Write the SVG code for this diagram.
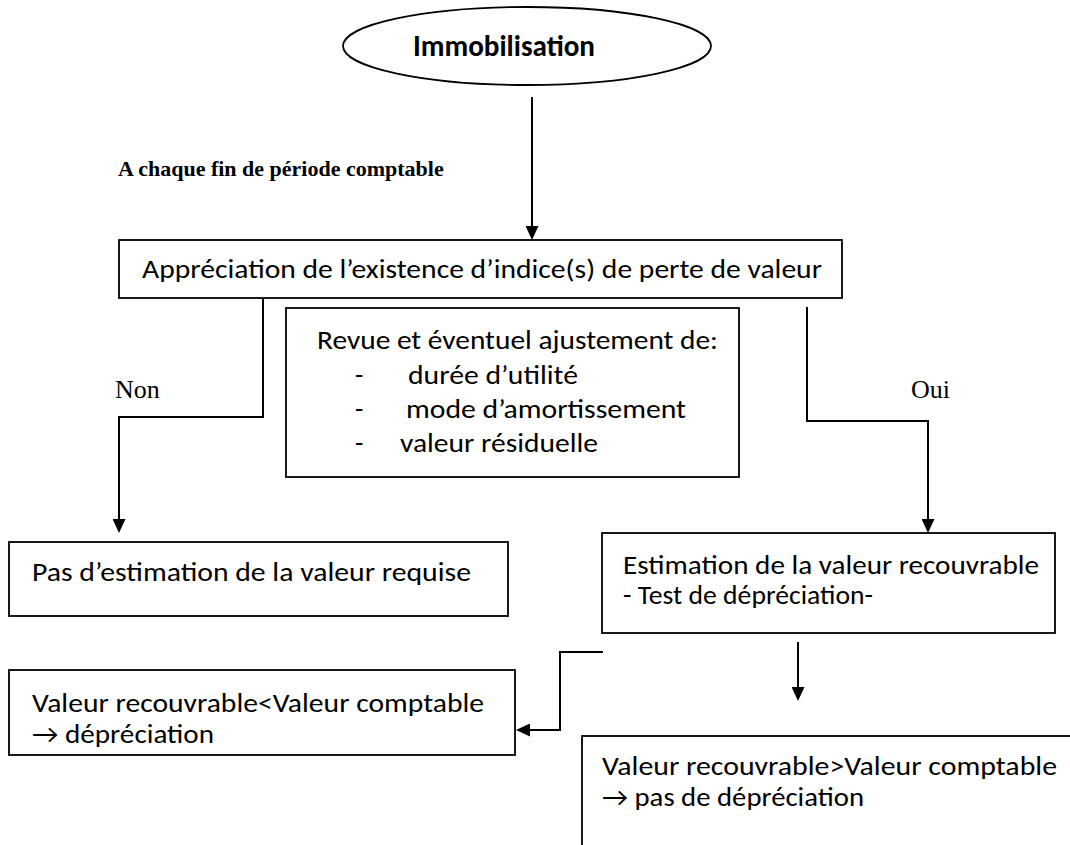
<svg xmlns="http://www.w3.org/2000/svg" width="1070" height="845" viewBox="0 0 1070 845">
<defs>
<style>
.bx{fill:#fff;stroke:#000;stroke-width:1.8}
.cn{fill:none;stroke:#000;stroke-width:2}
.t{font-family:Carlito,"Open Sans","Liberation Sans",sans-serif;font-size:27px;fill:#000}
.tb{font-family:Carlito,"Open Sans","Liberation Sans",sans-serif;font-size:30px;font-weight:bold;fill:#000}
.s{font-family:"Liberation Serif","Times New Roman",serif;fill:#000}
</style>
<marker id="ah" viewBox="0 0 14 13" markerUnits="userSpaceOnUse" markerWidth="14" markerHeight="13" refX="0" refY="6.5" orient="auto">
<path d="M0,0 L14,6.5 L0,13 z" fill="#000"/>
</marker>
</defs>
<rect width="1070" height="845" fill="#fff"/>

<g id="connectors">
<path class="cn" d="M532,97 L532,226" marker-end="url(#ah)"/>
<path class="cn" d="M263,298 L263,417 L119,417 L119,519" marker-end="url(#ah)"/>
<path class="cn" d="M807,307 L807,421 L928,421 L928,519" marker-end="url(#ah)"/>
<path class="cn" d="M603,652 L560,652 L560,730 L530,730" marker-end="url(#ah)"/>
<path class="cn" d="M798,642 L798,687" marker-end="url(#ah)"/>
</g>

<g id="immobilisation">
<ellipse class="bx" cx="527" cy="46" rx="184" ry="39"/>
<text class="tb" x="413" y="56" textLength="182" lengthAdjust="spacingAndGlyphs">Immobilisation</text>
</g>

<g id="label-periode">
<text class="s" x="118" y="176" font-size="22" font-weight="bold">A chaque fin de période comptable</text>
</g>

<g id="appreciation">
<rect class="bx" x="119" y="240" width="723" height="58"/>
<text class="t" x="142" y="278" textLength="680" lengthAdjust="spacingAndGlyphs">Appréciation de l’existence d’indice(s) de perte de valeur</text>
</g>

<g id="label-non">
<text class="s" x="115" y="398" font-size="26">Non</text>
</g>
<g id="label-oui">
<text class="s" x="911" y="398" font-size="26">Oui</text>
</g>

<g id="revue">
<rect class="bx" x="286" y="308" width="453" height="169"/>
<text class="t" x="317" y="349" textLength="401" lengthAdjust="spacingAndGlyphs">Revue et éventuel ajustement de:</text>
<text class="t" x="355" y="384">-</text>
<text class="t" x="408" y="384" textLength="170" lengthAdjust="spacingAndGlyphs">durée d’utilité</text>
<text class="t" x="355" y="418">-</text>
<text class="t" x="406" y="418" textLength="280" lengthAdjust="spacingAndGlyphs">mode d’amortissement</text>
<text class="t" x="355" y="452">-</text>
<text class="t" x="400" y="452" textLength="198" lengthAdjust="spacingAndGlyphs">valeur résiduelle</text>
</g>

<g id="pas-estimation">
<rect class="bx" x="9" y="542" width="499" height="74"/>
<text class="t" x="32" y="581" textLength="439" lengthAdjust="spacingAndGlyphs">Pas d’estimation de la valeur requise</text>
</g>

<g id="estimation">
<rect class="bx" x="602" y="533" width="453" height="100"/>
<text class="t" x="623" y="574" textLength="416" lengthAdjust="spacingAndGlyphs">Estimation de la valeur recouvrable</text>
<text class="t" x="623" y="604" textLength="250" lengthAdjust="spacingAndGlyphs">- Test de dépréciation-</text>
</g>

<g id="depreciation">
<rect class="bx" x="9" y="670" width="506" height="85"/>
<text class="t" x="32" y="712" textLength="452" lengthAdjust="spacingAndGlyphs">Valeur recouvrable&lt;Valeur comptable</text>
<text class="t" x="32" y="743" textLength="182" lengthAdjust="spacingAndGlyphs">→ dépréciation</text>
</g>

<g id="pas-depreciation">
<rect class="bx" x="582" y="736" width="500" height="120"/>
<text class="t" x="602" y="775" textLength="455" lengthAdjust="spacingAndGlyphs">Valeur recouvrable&gt;Valeur comptable</text>
<text class="t" x="602" y="806" textLength="262" lengthAdjust="spacingAndGlyphs">→ pas de dépréciation</text>
</g>
</svg>
